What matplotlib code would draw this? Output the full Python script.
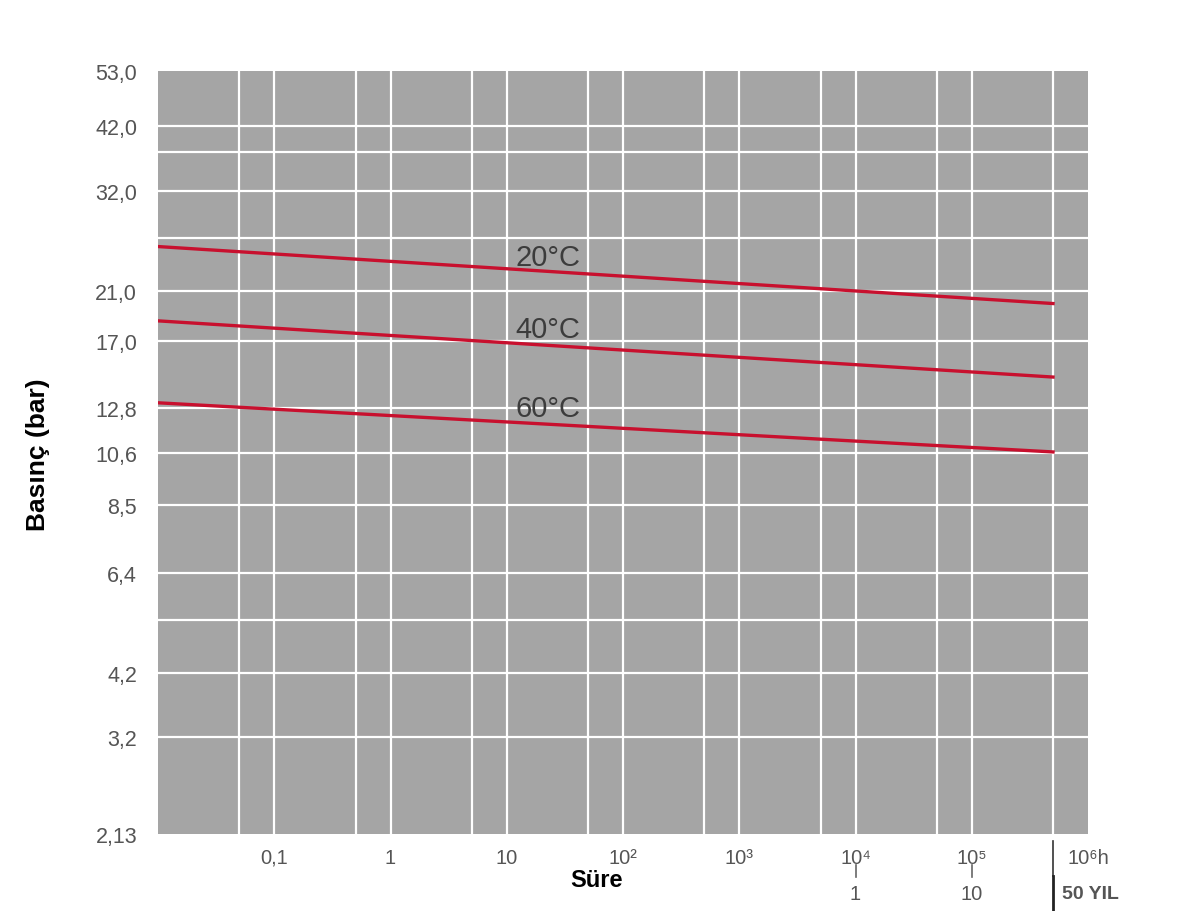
import matplotlib.pyplot as plt
import numpy as np

plt.rcParams['font.family'] = ['Liberation Sans', 'DejaVu Sans']

# süre (saat) - doğruların başlangıç ve bitiş noktaları
hours = [0.01, 5e5]
p20 = [25.3, 19.9]
p40 = [18.5, 14.6]
p60 = [13.1, 10.65]
curves = [('20°C', p20, 24.2), ('40°C', p40, 17.9), ('60°C', p60, 12.8)]
label_x = 22.6

y_ticks = [2.13, 3.2, 4.2, 6.4, 8.5, 10.6, 12.8, 17.0, 21.0, 32.0, 42.0, 53.0]
y_extra = [5.25, 26.2, 37.6]
x_ticks = [0.1, 1, 10, 1e2, 1e3, 1e4, 1e5, 1e6]
x_labels = ['0,1', '1', '10', '10²', '10³', '10⁴', '10⁵', '10⁶h']
x_half = [0.05, 0.5, 5, 50, 500, 5000, 5e4, 5e5]
years = [(1e4, '1'), (1e5, '10')]

fig = plt.figure(figsize=(12, 9.12), dpi=100)
ax = fig.add_axes([158/1200, 77/912, 930/1200, 763/912])
ax.set_facecolor('#a5a5a5')
ax.set_xscale('log')
ax.set_yscale('log')
ax.set_xlim(0.01, 1e6)
ax.set_ylim(2.13, 53)

for v in x_ticks[:-1] + x_half:
    ax.axvline(v, color='white', lw=1.6, zorder=1)
for v in y_ticks[1:-1] + y_extra:
    ax.axhline(v, color='white', lw=1.6, zorder=1)

for name, vals, ty in curves:
    ax.plot(hours, vals, color='#c8102e', lw=2.4, zorder=3)
    ax.text(label_x, ty, name, ha='center', va='center', fontsize=21,
            color='#3c3c3c', zorder=4)

ax.set_yticks(y_ticks)
ax.set_yticklabels([('%.2f' % v).replace('.', ',') if v < 2.5 else ('%.1f' % v).replace('.', ',') for v in y_ticks])
ax.yaxis.set_minor_locator(plt.NullLocator())
ax.set_xticks(x_ticks)
ax.set_xticklabels(x_labels)
ax.xaxis.set_minor_locator(plt.NullLocator())
ax.tick_params(axis='both', length=0, labelcolor='#555555')
ax.tick_params(axis='y', pad=15, labelsize=15.5)
ax.tick_params(axis='x', pad=10, labelsize=14.5)
for s in ax.spines.values():
    s.set_visible(False)

# yıl ölçeği
tr = ax.get_xaxis_transform()
for xv, txt in years:
    ax.plot([xv, xv], [-0.04, -0.057], transform=tr, color='#666666',
            lw=1.2, clip_on=False)
    ax.text(xv, -0.078, txt, transform=tr, ha='center',
            va='center', fontsize=14.5, color='#555555')
ax.plot([5e5, 5e5], [-0.009, -0.055], transform=tr,
        color='#333333', lw=1.2, clip_on=False)
ax.plot([5e5, 5e5], [-0.055, -0.1], transform=tr,
        color='#222222', lw=2, clip_on=False)
fig.text(1062/1200, 1 - 895/912, '50 YIL', ha='left', va='center', fontsize=14,
         fontweight='bold', color='#555555')

fig.text(597/1200, 1 - 881/912, 'Süre', ha='center', va='center', fontsize=17,
         fontweight='bold', color='black')
fig.text(38/1200, 1 - 455/912, 'Basınç (bar)', ha='center', va='center',
         rotation=90, fontsize=19, fontweight='bold', color='black')

fig.savefig('out.png', dpi=100)
